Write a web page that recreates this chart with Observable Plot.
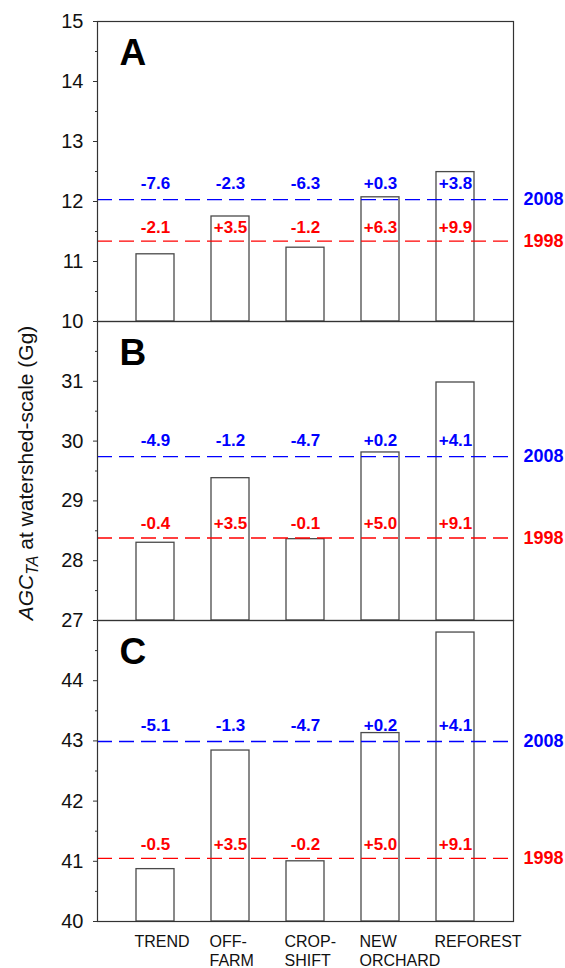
<!DOCTYPE html>
<html><head><meta charset="utf-8">
<script src="https://cdn.jsdelivr.net/npm/d3@7"></script>
<script src="https://cdn.jsdelivr.net/npm/@observablehq/plot@0.6"></script>
<style>
html,body{margin:0;background:#fff;font-family:"Liberation Sans",Arial,sans-serif;overflow:hidden;}
#chart{position:relative;width:565px;height:968px;background:#fff;}
#chart svg{position:absolute;left:0;}
#ytitle{position:absolute;left:28px;top:473px;transform:translate(-50%,-50%) rotate(-90deg);white-space:nowrap;font-size:21px;color:#111;}
#ytitle sub{font-size:16px;}
</style></head>
<body>
<div id="chart"><div id="ytitle"><i>AGC</i><sub><i>TA</i></sub> at watershed-scale (Gg)</div></div>
<script>
const categories = ["TREND", "OFF-\nFARM", "CROP-\nSHIFT", "NEW\nORCHARD", "REFOREST"];

const valuesA = [11.12, 11.75, 11.23, 12.07, 12.49];
const valuesB = [28.30, 29.38, 28.36, 29.81, 30.98];
const valuesC = [40.87, 42.84, 41.00, 43.13, 44.80];

const ref2008 = [12.03, 29.74, 42.99];
const ref1998 = [11.34, 28.38, 41.05];

const pct2008A = ["-7.6", "-2.3", "-6.3", "+0.3", "+3.8"];
const pct1998A = ["-2.1", "+3.5", "-1.2", "+6.3", "+9.9"];
const pct2008B = ["-4.9", "-1.2", "-4.7", "+0.2", "+4.1"];
const pct1998B = ["-0.4", "+3.5", "-0.1", "+5.0", "+9.1"];
const pct2008C = ["-5.1", "-1.3", "-4.7", "+0.2", "+4.1"];
const pct1998C = ["-0.5", "+3.5", "-0.2", "+5.0", "+9.1"];

const domainA = [10, 15], ticksA = [10, 11, 12, 13, 14, 15];
const domainB = [27, 32], ticksB = [27, 28, 29, 30, 31];
const domainC = [40, 45], ticksC = [40, 41, 42, 43, 44];

const panels = [
  {letter: "A", values: valuesA, r08: ref2008[0], r98: ref1998[0], p08: pct2008A, p98: pct1998A, domain: domainA, ticks: ticksA, top: 0, marginTop: 21, h: 300, bottom: false},
  {letter: "B", values: valuesB, r08: ref2008[1], r98: ref1998[1], p08: pct2008B, p98: pct1998B, domain: domainB, ticks: ticksB, top: 321, marginTop: 0, h: 299, bottom: false},
  {letter: "C", values: valuesC, r08: ref2008[2], r98: ref1998[2], p08: pct2008C, p98: pct1998C, domain: domainC, ticks: ticksC, top: 620, marginTop: 0, h: 301, bottom: true}
];

const BLUE = "#0000ff", RED = "#ff0000";
const chart = document.getElementById("chart");

for (const p of panels) {
  const data = categories.map((c, i) => ({cat: c, v: p.values[i], p08: p.p08[i], p98: p.p98[i]}));
  const lo = p.domain[0], hi = p.domain[1];
  const minor = d3.range(lo + 0.5, hi, 1);
  const marginBottom = p.bottom ? 47 : 0;
  const marks = [
    Plot.barY(data, {x: "cat", y1: lo, y2: "v", fill: "white", stroke: "#4a4a4a", strokeWidth: 1.3}),
    Plot.ruleY([p.r08], {stroke: BLUE, strokeWidth: 1.3, strokeDasharray: "15,7"}),
    Plot.ruleY([p.r98], {stroke: RED, strokeWidth: 1.3, strokeDasharray: "15,7"}),
    Plot.text(data, {x: "cat", y: () => p.r08, text: "p08", dy: -16, fill: BLUE, fontWeight: "bold", fontSize: 17}),
    Plot.text(data, {x: "cat", y: () => p.r98, text: "p98", dy: -14, fill: RED, fontWeight: "bold", fontSize: 17}),
    Plot.text([p.r08], {y: d => d, text: () => "2008", frameAnchor: "right", textAnchor: "start", dx: 10, fill: BLUE, fontWeight: "bold", fontSize: 18}),
    Plot.text([p.r98], {y: d => d, text: () => "1998", frameAnchor: "right", textAnchor: "start", dx: 10, fill: RED, fontWeight: "bold", fontSize: 18}),
    Plot.text([p.letter], {text: d => d, frameAnchor: "top-left", textAnchor: "start", lineAnchor: "top", dx: 22, dy: 17, fontSize: 37, fontWeight: "bold", fill: "#000"}),
    Plot.frame({stroke: "#333", strokeWidth: 1.2}),
    Plot.axisY({ticks: p.ticks, tickFormat: d3.format("d"), tickSize: 4, tickPadding: 10, fontSize: 20, label: null, stroke: "#333", fill: "#111"}),
    Plot.axisY({ticks: minor, tickSize: 2, tickFormat: () => "", label: null, stroke: "#333"})
  ];
  if (p.bottom) {
    marks.push(Plot.axisX({tickSize: 0, tickPadding: 12, textAnchor: "start", dx: -21, fontSize: 16, lineHeight: 1.2, label: null, fill: "#111"}));
  }
  const svg = Plot.plot({
    width: 565,
    height: p.marginTop + p.h + marginBottom,
    marginLeft: 97,
    marginRight: 52,
    marginTop: p.marginTop,
    marginBottom: marginBottom,
    style: {background: "transparent", overflow: "visible", fontFamily: "'Liberation Sans', Arial, sans-serif"},
    x: {domain: categories, padding: 0.5, axis: null},
    y: {domain: p.domain, axis: null},
    marks
  });
  svg.style.top = p.top + "px";
  svg.style.position = "absolute";
  chart.appendChild(svg);
}
</script>
</body></html>
